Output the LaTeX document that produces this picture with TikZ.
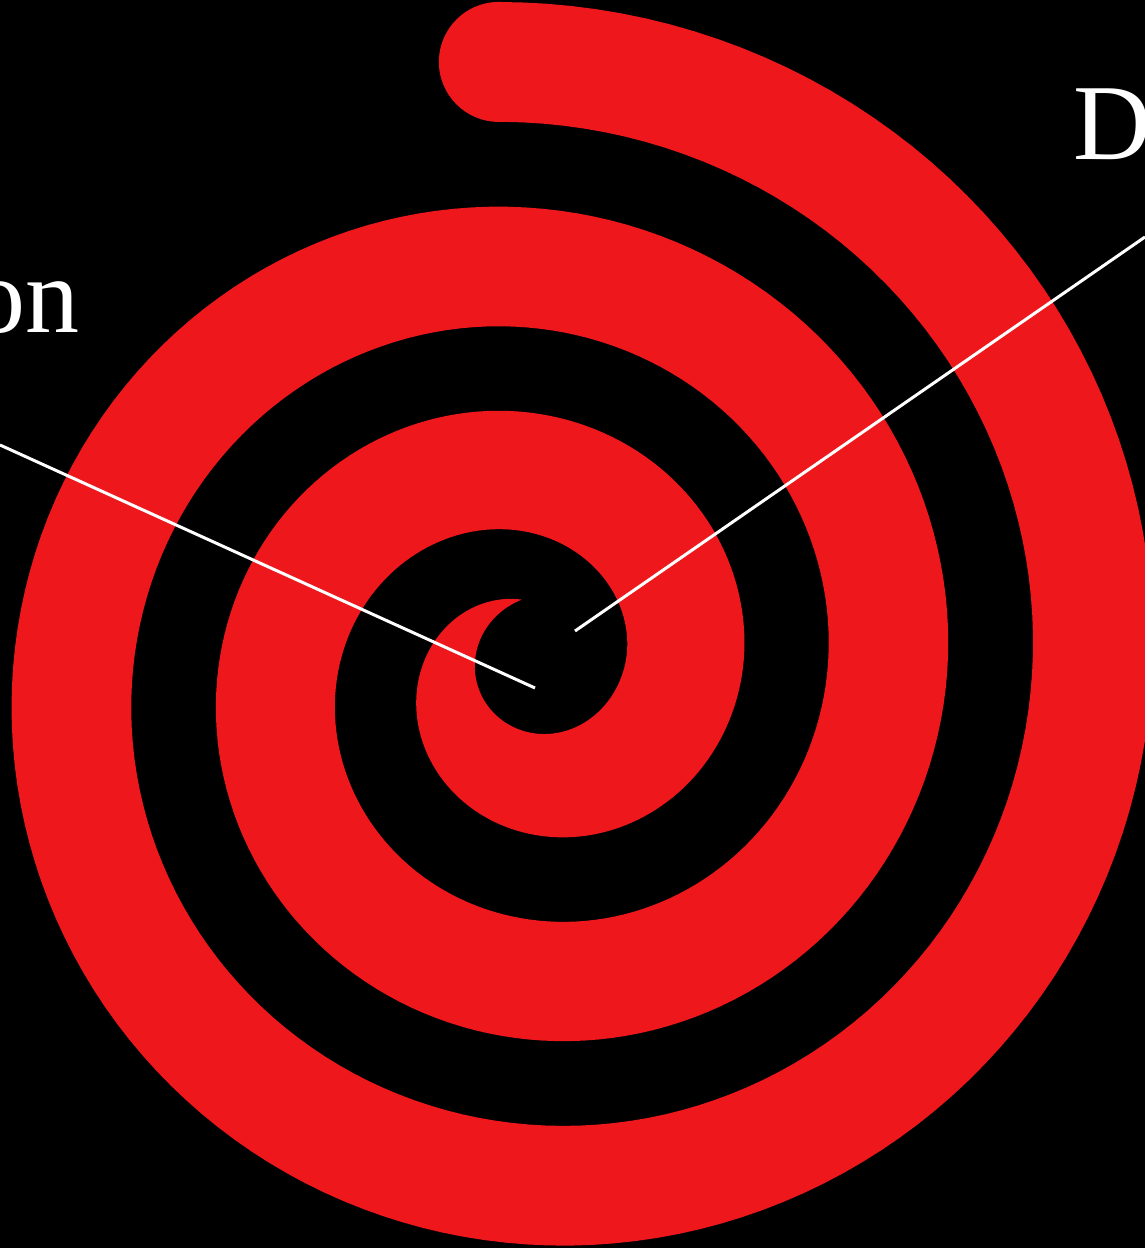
\documentclass[tikz,border=0pt]{standalone}
\usepackage{fontspec}
\setmainfont{Liberation Serif}
\definecolor{coilred}{RGB}{238,24,28}
\tikzset{
  coil/.style={fill=coilred},
  leader/.style={draw=white,line width=3pt},
  lbl/.style={text=white,inner sep=0pt,font=\fontsize{108}{120}\selectfont}
}
\begin{document}
\begin{tikzpicture}[x=1pt,y=1pt,
    declare function={
      coilr(\t)=(\t>=360)*(151+0.5694*(\t-360))
             +(\t<360)*(151-0.5694*(360-\t)+10.8*((360-\t)/100)*((360-\t)/100));
      coilw(\t)=120*sin(90*min(1,(\t-97)/270));
    }]
   \fill[black] (0,0) rectangle (1145,1248);
   \clip (0,0) rectangle (1145,1248);
   % the coil, outer and inner edge
   \fill[coil] plot[domain=97:1173,samples=500]
       ({531+(coilr(\x)+coilw(\x)/2)*cos(\x)},{573+(coilr(\x)+coilw(\x)/2)*sin(\x)})
     -- plot[domain=1173:97,samples=500]
       ({531+(coilr(\x)-coilw(\x)/2)*cos(\x)},{573+(coilr(\x)-coilw(\x)/2)*sin(\x)})
     -- cycle;
   \coordinate (coilend) at ({531+coilr(1173)*cos(1173)},{573+coilr(1173)*sin(1173)});
   \fill[coil] (coilend) circle[radius=60];
   % labels
   \node[lbl,anchor=base west] (onlbl) at (-29,915) {on};
   \node[lbl,anchor=base west] (dlbl) at (1073,1088) {D};
   \coordinate (onfoot) at (0,803);
   \coordinate (ontip) at (535,560);
   \coordinate (dfoot) at (1145,1011);
   \coordinate (dtip) at (575,617);
   \draw[leader] (onfoot) -- (ontip);
   \draw[leader] (dfoot) -- (dtip);
\end{tikzpicture}
\end{document}
